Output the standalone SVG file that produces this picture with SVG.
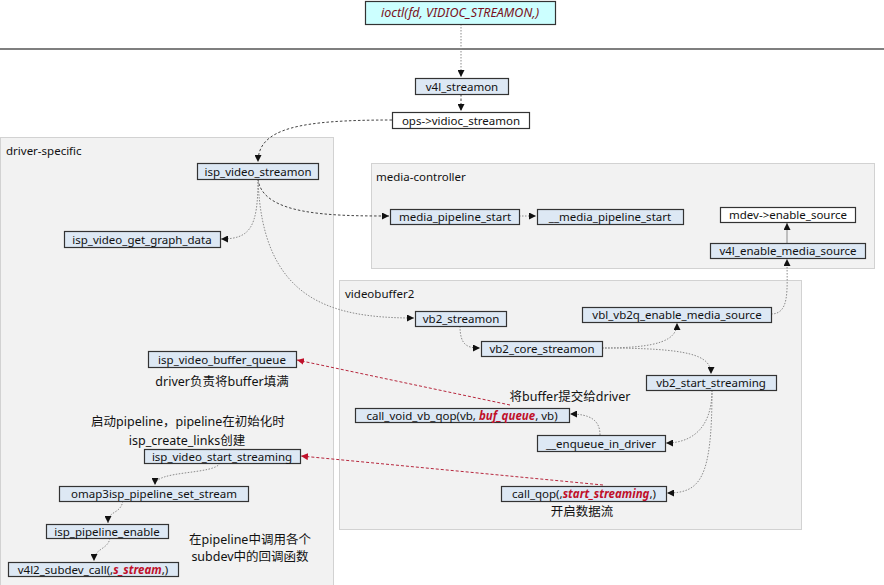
<svg xmlns="http://www.w3.org/2000/svg" width="884" height="585" viewBox="0 0 884 585">
<style>
text{font-family:"Noto Sans","Noto Sans CJK SC",sans-serif;font-size:11.5px;fill:#111}
.c{text-anchor:middle}
.n{font-size:12.5px}
.box rect{fill:#dde8f4;stroke:#333;stroke-width:1.2}
.box.w rect{fill:#fff}
.box.cy rect{fill:#ccffff}
.grp{fill:#f2f2f2;stroke:#d2d2d2;stroke-width:1}
.hl{fill:#c0102a;font-weight:bold;font-style:italic}
.lg{fill:none;stroke:#8a8a8a;stroke-width:1;stroke-dasharray:1.5 1.5;marker-end:url(#ah)}
.ld{fill:none;stroke:#444;stroke-width:1;stroke-dasharray:2.5 2;marker-end:url(#ah)}
.lr{fill:none;stroke:#b01028;stroke-width:0.9;stroke-dasharray:3 2;marker-end:url(#ar)}
</style>
<defs>
<marker id="ah" viewBox="0 0 10 10" refX="10" refY="5" markerWidth="7" markerHeight="7" markerUnits="userSpaceOnUse" orient="auto"><path d="M0,0L10,5L0,10z" fill="#111"/></marker>
<marker id="ar" viewBox="0 0 10 10" refX="10" refY="5" markerWidth="7" markerHeight="7" markerUnits="userSpaceOnUse" orient="auto"><path d="M0,0L10,5L0,10z" fill="#c0102a"/></marker>
</defs>
<rect width="884" height="585" fill="#fff"/>
<line x1="0" y1="49" x2="884" y2="49" stroke="#555" stroke-width="1.5"/>

<g id="groups">
<rect class="grp" x="0.5" y="137.5" width="333" height="460"/>
<rect class="grp" x="371.5" y="163.5" width="503" height="105"/>
<rect class="grp" x="339.5" y="280.5" width="462" height="249"/>
<text x="6" y="155">driver-specific</text>
<text x="376" y="181">media-controller</text>
<text x="345" y="298">videobuffer2</text>
</g>

<g id="connectors">
<path class="lg" d="M461,24 L461,77"/>
<path class="ld" d="M461,94 L461,111"/>
<path class="ld" d="M392,120 C300,120 258,128 258,162"/>
<path class="ld" d="M258,179 C262,215 330,216 389,216"/>
<path class="lg" d="M258,179 C258,228 250,239 221,239"/>
<path class="lg" d="M258,179 C262,300 330,318 414,318"/>
<path class="lg" d="M519,216 L536,216"/>
<path class="lg" style="stroke-dasharray:none" d="M787,243 L787,223"/>
<path class="lg" d="M771,314 C790,314 787,290 787,259"/>
<path class="lg" d="M460,326 C460,346 468,348 480,348"/>
<path class="lg" d="M602,348 C660,348 677,340 677,323"/>
<path class="lg" d="M602,348 C690,348 711,355 711,374"/>
<path class="lg" d="M712,390 C712,430 690,443 666,443"/>
<path class="lg" d="M712,390 C712,480 700,493 667,493"/>
<path class="lg" d="M600,435 C600,420 590,414 570,414"/>
<path class="lr" d="M510,405 L297,360"/>
<path class="lr" d="M603,485 L301,456"/>
<path class="lg" d="M220,463 C215,475 155,470 155,485"/>
<path class="lg" d="M123,501 C120,515 108,510 108,523"/>
<path class="lg" d="M110,538 C108,550 94,548 94,561"/>
</g>

<g id="ioctl" class="box cy"><rect x="365.5" y="1.5" width="190" height="23"/><text class="c" x="460" y="17" style="font-style:italic;fill:#7a1020;font-size:12.5px">ioctl(fd, VIDIOC_STREAMON,)</text></g>
<g id="v4l_streamon" class="box"><rect x="415.5" y="78.5" width="93" height="16"/><text class="c" x="462" y="91">v4l_streamon</text></g>
<g id="ops_vidioc_streamon" class="box w"><rect x="392.5" y="112.5" width="137" height="16"/><text class="c" x="461" y="125">ops-&gt;vidioc_streamon</text></g>
<g id="isp_video_streamon" class="box"><rect x="197.5" y="163.5" width="121" height="16"/><text class="c" x="258" y="176">isp_video_streamon</text></g>
<g id="isp_video_get_graph_data" class="box"><rect x="64.5" y="231.5" width="156" height="16"/><text class="c" x="142" y="244">isp_video_get_graph_data</text></g>
<g id="media_pipeline_start" class="box"><rect x="390.5" y="209.5" width="129" height="15"/><text class="c" x="455" y="221">media_pipeline_start</text></g>
<g id="__media_pipeline_start" class="box"><rect x="537.5" y="209.5" width="146" height="15"/><text class="c" x="610" y="221">__media_pipeline_start</text></g>
<g id="mdev_enable_source" class="box w"><rect x="720.5" y="207.5" width="135" height="15"/><text class="c" x="788" y="219">mdev-&gt;enable_source</text></g>
<g id="v4l_enable_media_source" class="box"><rect x="710.5" y="243.5" width="155" height="15"/><text class="c" x="788" y="255">v4l_enable_media_source</text></g>
<g id="vb2_streamon" class="box"><rect x="415.5" y="311.5" width="91" height="15"/><text class="c" x="461" y="323">vb2_streamon</text></g>
<g id="vbl_vb2q_enable_media_source" class="box"><rect x="582.5" y="307.5" width="189" height="15"/><text class="c" x="677" y="319">vbl_vb2q_enable_media_source</text></g>
<g id="vb2_core_streamon" class="box"><rect x="481.5" y="341.5" width="121" height="15"/><text class="c" x="542" y="353">vb2_core_streamon</text></g>
<g id="vb2_start_streaming" class="box"><rect x="646.5" y="375.5" width="130" height="15"/><text class="c" x="711" y="387">vb2_start_streaming</text></g>
<g id="call_void_vb_qop" class="box"><rect x="355.5" y="408.5" width="214" height="14"/><text class="c" x="462" y="420">call_void_vb_qop(vb, <tspan class="hl">buf_queue</tspan>, vb)</text></g>
<g id="__enqueue_in_driver" class="box"><rect x="537.5" y="435.5" width="128" height="16"/><text class="c" x="601" y="448">__enqueue_in_driver</text></g>
<g id="call_qop" class="box"><rect x="501.5" y="486.5" width="165" height="15"/><text class="c" x="584" y="498">call_qop(,<tspan class="hl">start_streaming</tspan>,)</text></g>
<g id="isp_video_buffer_queue" class="box"><rect x="148.5" y="351.5" width="148" height="16"/><text class="c" x="222" y="364">isp_video_buffer_queue</text></g>
<g id="isp_video_start_streaming" class="box"><rect x="144.5" y="449.5" width="156" height="14"/><text class="c" x="222" y="461">isp_video_start_streaming</text></g>
<g id="omap3isp_pipeline_set_stream" class="box"><rect x="59.5" y="486.5" width="189" height="15"/><text class="c" x="154" y="498">omap3isp_pipeline_set_stream</text></g>
<g id="isp_pipeline_enable" class="box"><rect x="46.5" y="524.5" width="122" height="14"/><text class="c" x="107" y="536">isp_pipeline_enable</text></g>
<g id="v4l2_subdev_call" class="box"><rect x="8.5" y="562.5" width="170" height="14"/><text class="c" x="93" y="574">v4l2_subdev_call(,<tspan class="hl">s_stream</tspan>,)</text></g>

<g id="notes">
<text class="c n" x="222" y="386">driver负责将buffer填满</text>
<text class="c n" x="188" y="426">启动pipeline，pipeline在初始化时</text>
<text class="c n" x="187" y="445">isp_create_links创建</text>
<text class="c n" x="250" y="544">在pipeline中调用各个</text>
<text class="c n" x="250" y="561">subdev中的回调函数</text>
<text class="c n" x="570" y="401">将buffer提交给driver</text>
<text class="c n" x="582" y="516">开启数据流</text>
</g>
</svg>
